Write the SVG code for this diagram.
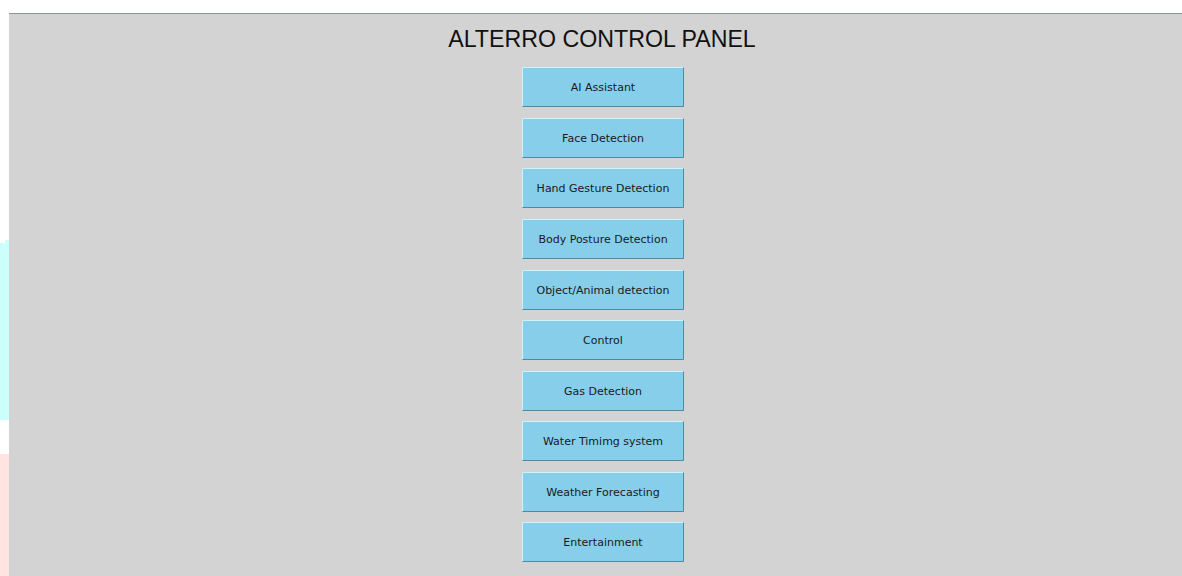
<svg xmlns="http://www.w3.org/2000/svg" width="1182" height="576" viewBox="0 0 1182 576">
<style>
.hl{stroke:#cdf3fb;stroke-width:1;fill:none}
.sh{stroke:#4f8aa0;stroke-width:1;fill:none}
.lbl{font-family:"DejaVu Sans",sans-serif;font-size:11px;fill:#1a1a1a;text-anchor:middle}
.title{font-family:"Liberation Sans",Arial,sans-serif;font-size:23.2px;fill:#111;text-anchor:middle}
</style>
<defs>
<g id="b">
<rect x="0" y="0" width="162" height="40" fill="#87ceeb"/>
<path class="hl" d="M0.5,39.5V0.5H161.5" stroke="#cdf3fb" fill="none"/>
<path class="sh" d="M0.5,39.5H161.5V0.5" stroke="#4f8aa0" fill="none"/>
</g>
</defs>
<rect x="0" y="0" width="1182" height="576" fill="#ffffff"/>
<rect x="0" y="243" width="9" height="177" fill="#ccfffc"/>
<rect x="5" y="240" width="4" height="3" fill="#ccfffc"/>
<rect x="0" y="454" width="9" height="122" fill="#ffe4e1"/>
<rect x="9" y="13" width="1173" height="563" fill="#d3d3d3"/>
<line x1="9" y1="13.5" x2="1182" y2="13.5" stroke="#8c959b" stroke-width="1"/>
<text class="title" x="602" y="47">ALTERRO CONTROL PANEL</text>
<g id="connectors"></g>
<g id="btn-ai" transform="translate(522,67)"><use href="#b"/><text class="lbl" x="81" y="24">AI Assistant</text></g>
<g id="btn-face" transform="translate(522,118)"><use href="#b"/><text class="lbl" x="81" y="24">Face Detection</text></g>
<g id="btn-hand" transform="translate(522,168)"><use href="#b"/><text class="lbl" x="81" y="24">Hand Gesture Detection</text></g>
<g id="btn-body" transform="translate(522,219)"><use href="#b"/><text class="lbl" x="81" y="24">Body Posture Detection</text></g>
<g id="btn-object" transform="translate(522,270)"><use href="#b"/><text class="lbl" x="81" y="24">Object/Animal detection</text></g>
<g id="btn-control" transform="translate(522,320)"><use href="#b"/><text class="lbl" x="81" y="24">Control</text></g>
<g id="btn-gas" transform="translate(522,371)"><use href="#b"/><text class="lbl" x="81" y="24">Gas Detection</text></g>
<g id="btn-water" transform="translate(522,421)"><use href="#b"/><text class="lbl" x="81" y="24">Water Timimg system</text></g>
<g id="btn-weather" transform="translate(522,472)"><use href="#b"/><text class="lbl" x="81" y="24">Weather Forecasting</text></g>
<g id="btn-ent" transform="translate(522,522)"><use href="#b"/><text class="lbl" x="81" y="24">Entertainment</text></g>
</svg>
